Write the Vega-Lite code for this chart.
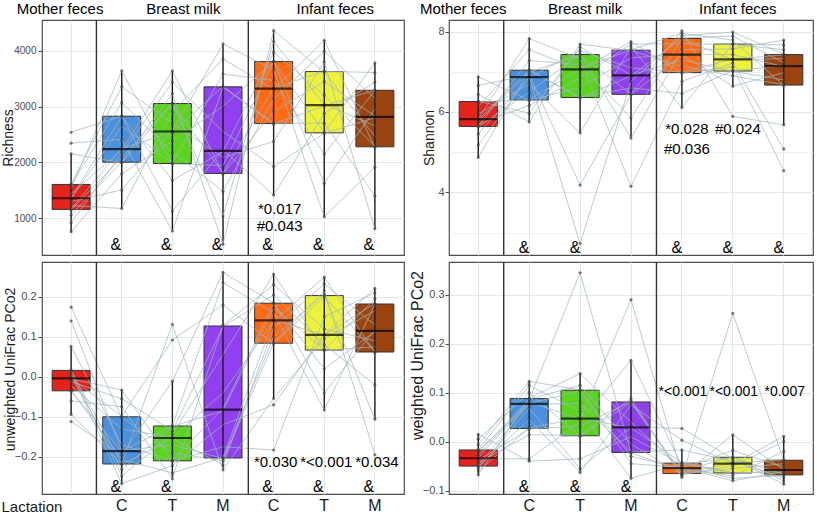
{
"$schema": "https://vega.github.io/schema/vega-lite/v6.json",
"padding": {"left": 0, "top": 0, "right": 2, "bottom": 0},
"background": "white",
"config": {
  "font": "Liberation Sans",
  "view": {"stroke": "#4d4d4d", "strokeWidth": 1.2},
  "axis": {"gridColor": "#e2e8ea", "labelColor": "#4d4d4d", "tickColor": "#4d4d4d", "titleFontWeight": "normal", "titleColor": "#1a1a1a", "domain": false}
},
"datasets": {
  "box": [
    {"p":"R","g":"MF","lo":762,"q1":1161,"med":1360,"q3":1607,"hi":2155},
    {"p":"R","g":"BC","lo":1178,"q1":2005,"med":2238,"q3":2827,"hi":3637},
    {"p":"R","g":"BT","lo":774,"q1":1982,"med":2554,"q3":3054,"hi":3637},
    {"p":"R","g":"BM","lo":536,"q1":1804,"med":2209,"q3":3352,"hi":4120},
    {"p":"R","g":"IC","lo":1416,"q1":2696,"med":3321,"q3":3804,"hi":4357},
    {"p":"R","g":"IT","lo":1030,"q1":2530,"med":3024,"q3":3625,"hi":4184},
    {"p":"R","g":"IM","lo":816,"q1":2280,"med":2815,"q3":3291,"hi":3780},
    {"p":"S","g":"MF","lo":4.87,"q1":5.64,"med":5.82,"q3":6.26,"hi":6.875},
    {"p":"S","g":"BC","lo":5.75,"q1":6.30,"med":6.87,"q3":7.04,"hi":7.83},
    {"p":"S","g":"BT","lo":5.48,"q1":6.36,"med":7.06,"q3":7.43,"hi":7.69},
    {"p":"S","g":"BM","lo":5.35,"q1":6.44,"med":6.91,"q3":7.54,"hi":7.75},
    {"p":"S","g":"IC","lo":6.11,"q1":6.98,"med":7.43,"q3":7.83,"hi":8.02},
    {"p":"S","g":"IT","lo":6.64,"q1":7.02,"med":7.31,"q3":7.69,"hi":7.99},
    {"p":"S","g":"IM","lo":5.68,"q1":6.67,"med":7.14,"q3":7.43,"hi":7.79},
    {"p":"U","g":"MF","lo":-0.094,"q1":-0.035,"med":-0.004,"q3":0.016,"hi":0.076},
    {"p":"U","g":"BC","lo":-0.267,"q1":-0.218,"med":-0.186,"q3":-0.100,"hi":-0.033},
    {"p":"U","g":"BT","lo":-0.255,"q1":-0.210,"med":-0.153,"q3":-0.123,"hi":-0.011},
    {"p":"U","g":"BM","lo":-0.233,"q1":-0.203,"med":-0.082,"q3":0.127,"hi":0.261},
    {"p":"U","g":"IC","lo":-0.054,"q1":0.084,"med":0.141,"q3":0.184,"hi":0.257},
    {"p":"U","g":"IT","lo":-0.083,"q1":0.067,"med":0.105,"q3":0.203,"hi":0.249},
    {"p":"U","g":"IM","lo":-0.106,"q1":0.062,"med":0.115,"q3":0.182,"hi":0.221},
    {"p":"W","g":"MF","lo":-0.068,"q1":-0.050,"med":-0.034,"q3":-0.017,"hi":0.015},
    {"p":"W","g":"BC","lo":-0.040,"q1":0.027,"med":0.077,"q3":0.088,"hi":0.123},
    {"p":"W","g":"BT","lo":-0.063,"q1":0.012,"med":0.047,"q3":0.105,"hi":0.139},
    {"p":"W","g":"BM","lo":-0.075,"q1":-0.022,"med":0.029,"q3":0.081,"hi":0.166},
    {"p":"W","g":"IC","lo":-0.073,"q1":-0.065,"med":-0.054,"q3":-0.044,"hi":-0.017},
    {"p":"W","g":"IT","lo":-0.080,"q1":-0.064,"med":-0.045,"q3":-0.032,"hi":0.014},
    {"p":"W","g":"IM","lo":-0.087,"q1":-0.068,"med":-0.058,"q3":-0.038,"hi":0.011}
  ],
  "subj": [
    {"p":"R","s":0,"MF":1350,"BC":2650,"BT":1990,"BM":3582,"IC":3466,"IT":2155,"IM":3285},
    {"p":"R","s":1,"MF":1150,"BC":2087,"BT":3060,"BM":1043,"IC":4163,"IT":3038,"IM":2655},
    {"p":"R","s":2,"MF":1620,"BC":3354,"BT":2704,"BM":2088,"IC":2376,"IT":3793,"IM":816},
    {"p":"R","s":3,"MF":762,"BC":1798,"BT":2382,"BM":3009,"IC":3800,"IT":2540,"IM":3780},
    {"p":"R","s":4,"MF":1440,"BC":2225,"BT":3637,"BM":1795,"IC":2915,"IT":3445,"IM":2830},
    {"p":"R","s":5,"MF":2541,"BC":2830,"BT":1130,"BM":2223,"IC":1416,"IT":2876,"IM":3438},
    {"p":"R","s":6,"MF":1230,"BC":1178,"BT":2904,"BM":3851,"IC":3310,"IT":4184,"IM":2270},
    {"p":"R","s":7,"MF":1530,"BC":3637,"BT":1975,"BM":1946,"IC":3810,"IT":1630,"IM":2958},
    {"p":"R","s":8,"MF":1060,"BC":2010,"BT":3229,"BM":536,"IC":4357,"IT":3620,"IM":2467},
    {"p":"R","s":9,"MF":2345,"BC":2415,"BT":774,"BM":3345,"IC":2690,"IT":3010,"IM":3295},
    {"p":"R","s":10,"MF":1300,"BC":1509,"BT":2568,"BM":4120,"IC":3659,"IT":1030,"IM":1914},
    {"p":"R","s":11,"MF":1595,"BC":3070,"BT":2182,"BM":1487,"IC":3134,"IT":3988,"IM":3148},
    {"p":"R","s":12,"MF":921,"BC":2168,"BT":3433,"BM":2552,"IC":1928,"IT":2520,"IM":2800},
    {"p":"R","s":13,"MF":1370,"BC":2820,"BT":1680,"BM":2195,"IC":3970,"IT":3204,"IM":2290},
    {"p":"R","s":14,"MF":2155,"BC":1995,"BT":3050,"BM":1815,"IC":3332,"IT":3630,"IM":3609},
    {"p":"R","s":15,"MF":1170,"BC":2251,"BT":2540,"BM":3360,"IC":2700,"IT":2703,"IM":1402},
    {"p":"S","s":0,"MF":5.65,"BC":7.28,"BT":7.18,"BM":5.85,"IC":7.82,"IT":7.30,"IM":7.33},
    {"p":"S","s":1,"MF":6.27,"BC":5.97,"BT":7.61,"BM":6.92,"IC":7.30,"IT":7.01,"IM":6.80},
    {"p":"S","s":2,"MF":5.95,"BC":6.70,"BT":5.48,"BM":7.62,"IC":6.11,"IT":7.70,"IM":7.67},
    {"p":"S","s":3,"MF":5.77,"BC":6.99,"BT":7.42,"BM":6.45,"IC":8.02,"IT":5.89,"IM":5.68},
    {"p":"S","s":4,"MF":6.875,"BC":6.29,"BT":6.61,"BM":7.35,"IC":7.44,"IT":7.43,"IM":7.13},
    {"p":"S","s":5,"MF":5.18,"BC":6.88,"BT":2.725,"BM":6.76,"IC":7.90,"IT":7.99,"IM":7.44},
    {"p":"S","s":6,"MF":6.13,"BC":7.55,"BT":7.05,"BM":7.75,"IC":6.97,"IT":7.12,"IM":4.54},
    {"p":"S","s":7,"MF":5.63,"BC":6.50,"BT":7.44,"BM":5.35,"IC":7.55,"IT":7.57,"IM":7.79},
    {"p":"S","s":8,"MF":6.44,"BC":5.75,"BT":7.69,"BM":7.53,"IC":7.14,"IT":6.90,"IM":6.68},
    {"p":"S","s":9,"MF":4.87,"BC":7.035,"BT":6.35,"BM":6.90,"IC":7.84,"IT":7.89,"IM":7.23},
    {"p":"S","s":10,"MF":5.83,"BC":7.83,"BT":7.32,"BM":4.15,"IC":6.76,"IT":7.22,"IM":5.08},
    {"p":"S","s":11,"MF":5.70,"BC":6.16,"BT":6.85,"BM":7.69,"IC":7.70,"IT":7.68,"IM":7.55},
    {"p":"S","s":12,"MF":6.66,"BC":6.92,"BT":4.18,"BM":6.43,"IC":7.42,"IT":6.64,"IM":6.98},
    {"p":"S","s":13,"MF":5.45,"BC":6.86,"BT":7.52,"BM":7.10,"IC":6.99,"IT":7.32,"IM":7.42},
    {"p":"S","s":14,"MF":6.25,"BC":6.31,"BT":7.07,"BM":7.55,"IC":7.96,"IT":7.79,"IM":6.66},
    {"p":"S","s":15,"MF":5.81,"BC":7.045,"BT":6.37,"BM":6.60,"IC":6.46,"IT":7.03,"IM":7.15},
    {"p":"U","s":0,"MF":0.004,"BC":-0.232,"BT":-0.124,"BM":-0.085,"IC":0.172,"IT":0.068,"IM":0.195},
    {"p":"U","s":1,"MF":0.140,"BC":-0.185,"BT":-0.170,"BM":-0.204,"IC":0.100,"IT":0.206,"IM":-0.106},
    {"p":"U","s":2,"MF":-0.060,"BC":-0.075,"BT":-0.255,"BM":0.129,"IC":0.230,"IT":0.120,"IM":0.090},
    {"p":"U","s":3,"MF":0.015,"BC":-0.217,"BT":0.131,"BM":-0.233,"IC":-0.054,"IT":0.095,"IM":0.165},
    {"p":"U","s":4,"MF":-0.022,"BC":-0.130,"BT":-0.152,"BM":-0.040,"IC":0.139,"IT":0.249,"IM":0.061},
    {"p":"U","s":5,"MF":-0.112,"BC":-0.196,"BT":-0.011,"BM":0.261,"IC":0.185,"IT":-0.040,"IM":0.117},
    {"p":"U","s":6,"MF":-0.005,"BC":-0.033,"BT":-0.211,"BM":-0.175,"IC":-0.183,"IT":0.150,"IM":0.210},
    {"p":"U","s":7,"MF":0.017,"BC":-0.248,"BT":-0.143,"BM":0.055,"IC":0.257,"IT":0.066,"IM":0.075},
    {"p":"U","s":8,"MF":0.174,"BC":-0.101,"BT":-0.190,"BM":-0.210,"IC":0.085,"IT":0.215,"IM":-0.195},
    {"p":"U","s":9,"MF":-0.036,"BC":-0.187,"BT":-0.122,"BM":0.235,"IC":0.160,"IT":-0.083,"IM":0.181},
    {"p":"U","s":10,"MF":0.010,"BC":-0.267,"BT":-0.222,"BM":-0.120,"IC":-0.070,"IT":0.106,"IM":0.221},
    {"p":"U","s":11,"MF":-0.012,"BC":-0.055,"BT":-0.135,"BM":0.125,"IC":0.205,"IT":0.080,"IM":-0.020},
    {"p":"U","s":12,"MF":-0.094,"BC":-0.219,"BT":-0.154,"BM":-0.220,"IC":0.122,"IT":0.232,"IM":0.130},
    {"p":"U","s":13,"MF":0.076,"BC":-0.170,"BT":-0.209,"BM":-0.079,"IC":0.183,"IT":0.020,"IM":0.113},
    {"p":"U","s":14,"MF":-0.003,"BC":-0.099,"BT":0.092,"BM":0.180,"IC":0.083,"IT":0.200,"IM":0.063},
    {"p":"U","s":15,"MF":-0.034,"BC":-0.207,"BT":-0.240,"BM":-0.202,"IC":0.143,"IT":0.104,"IM":0.183},
    {"p":"W","s":0,"MF":-0.018,"BC":0.076,"BT":0.078,"BM":-0.021,"IC":-0.017,"IT":-0.040,"IM":-0.074},
    {"p":"W","s":1,"MF":-0.038,"BC":0.026,"BT":0.032,"BM":0.082,"IC":-0.070,"IT":0.014,"IM":-0.057},
    {"p":"W","s":2,"MF":-0.068,"BC":0.089,"BT":0.139,"BM":0.040,"IC":-0.057,"IT":-0.070,"IM":-0.020},
    {"p":"W","s":3,"MF":0.015,"BC":-0.040,"BT":-0.035,"BM":0.010,"IC":-0.047,"IT":-0.033,"IM":-0.067},
    {"p":"W","s":4,"MF":-0.033,"BC":0.081,"BT":0.046,"BM":0.290,"IC":-0.066,"IT":-0.055,"IM":-0.045},
    {"p":"W","s":5,"MF":-0.006,"BC":0.123,"BT":0.106,"BM":-0.045,"IC":-0.053,"IT":-0.080,"IM":-0.061},
    {"p":"W","s":6,"MF":-0.051,"BC":0.045,"BT":-0.063,"BM":0.075,"IC":0.003,"IT":-0.046,"IM":0.011},
    {"p":"W","s":7,"MF":-0.028,"BC":0.085,"BT":0.345,"BM":-0.023,"IC":-0.060,"IT":-0.031,"IM":-0.080},
    {"p":"W","s":8,"MF":-0.043,"BC":0.014,"BT":0.013,"BM":0.088,"IC":-0.073,"IT":0.262,"IM":-0.039},
    {"p":"W","s":9,"MF":-0.016,"BC":0.115,"BT":0.062,"BM":-0.075,"IC":-0.045,"IT":-0.065,"IM":-0.059},
    {"p":"W","s":10,"MF":-0.055,"BC":0.068,"BT":-0.055,"BM":0.030,"IC":0.027,"IT":-0.035,"IM":-0.087},
    {"p":"W","s":11,"MF":-0.022,"BC":0.087,"BT":0.115,"BM":-0.005,"IC":-0.067,"IT":-0.050,"IM":0.000},
    {"p":"W","s":12,"MF":-0.035,"BC":-0.035,"BT":0.040,"BM":0.166,"IC":-0.050,"IT":-0.075,"IM":-0.069},
    {"p":"W","s":13,"MF":-0.049,"BC":0.078,"BT":0.104,"BM":-0.030,"IC":-0.055,"IT":-0.018,"IM":-0.052},
    {"p":"W","s":14,"MF":0.005,"BC":0.100,"BT":0.011,"BM":0.080,"IC":-0.064,"IT":-0.044,"IM":-0.037},
    {"p":"W","s":15,"MF":-0.060,"BC":0.028,"BT":0.048,"BM":0.028,"IC":-0.043,"IT":-0.063,"IM":-0.064}
  ],
  "ann": [
    {"p":"R","g":"BC","v":520,"t":"&"},{"p":"R","g":"BT","v":520,"t":"&"},{"p":"R","g":"BM","v":520,"t":"&"},
    {"p":"R","g":"IC","v":520,"t":"&"},{"p":"R","g":"IT","v":520,"t":"&"},{"p":"R","g":"IM","v":520,"t":"&"},
    {"p":"R","g":"IC","v":1161,"t":"*0.017"},{"p":"R","g":"IC","v":857,"t":"#0.043"},
    {"p":"S","g":"BC","v":2.61,"t":"&"},{"p":"S","g":"BT","v":2.61,"t":"&"},
    {"p":"S","g":"IC","v":2.61,"t":"&"},{"p":"S","g":"IT","v":2.61,"t":"&"},{"p":"S","g":"IM","v":2.61,"t":"&"},
    {"p":"S","g":"IC","v":5.585,"t":"*0.028"},{"p":"S","g":"IT","v":5.585,"t":"#0.024"},{"p":"S","g":"IC","v":5.07,"t":"#0.036"},
    {"p":"U","g":"BC","v":-0.276,"t":"&"},{"p":"U","g":"BT","v":-0.276,"t":"&"},
    {"p":"U","g":"IC","v":-0.276,"t":"&"},{"p":"U","g":"IT","v":-0.276,"t":"&"},{"p":"U","g":"IM","v":-0.276,"t":"&"},
    {"p":"U","g":"IC","v":-0.214,"t":"*0.030"},{"p":"U","g":"IT","v":-0.214,"t":"*<0.001"},{"p":"U","g":"IM","v":-0.214,"t":"*0.034"},
    {"p":"W","g":"BC","v":-0.0926,"t":"&"},{"p":"W","g":"BT","v":-0.0926,"t":"&"},{"p":"W","g":"BM","v":-0.0926,"t":"&"},
    {"p":"W","g":"IC","v":0.102,"t":"*<0.001"},{"p":"W","g":"IT","v":0.102,"t":"*<0.001"},{"p":"W","g":"IM","v":0.102,"t":"*0.007"}
  ]
},
"columns": 2,
"spacing": {"row": 3, "column": 3},
"concat": [
  {
    "width": 362, "height": 235,
    "resolve": {"axis": {"x": "independent"}},
    "layer": [
      {"data": {"name": "box"}, "transform": [{"filter": "datum.p === 'R'"}],
       "mark": {"type": "bar", "width": {"band": 0.75}, "stroke": "#333333", "strokeWidth": 1},
       "encoding": {
         "x": {"field": "g", "type": "nominal", "scale": {"type": "band", "domain": ["MF","BC","BT","BM","IC","IT","IM"], "paddingInner": 0, "paddingOuter": 0.075}, "axis": {"grid": true, "labels": false, "ticks": false, "domain": false, "title": null}},
         "y": {"field": "q1", "type": "quantitative", "title": "Richness", "scale": {"domain": [345, 4548], "nice": false, "zero": false},
               "axis": {"values": [1000,2000,3000,4000], "format": "d", "grid": true, "tickSize": 4, "labelPadding": 2, "labelFontSize": 10, "titleFontSize": 14, "titlePadding": -2}},
         "y2": {"field": "q3"},
         "color": {"field": "g", "type": "nominal", "scale": {"domain": ["MF","BC","BT","BM","IC","IT","IM"], "range": ["#e3231c","#4a90dc","#5bd41c","#9140f0","#ff6a14","#edf23c","#9c4410"]}, "legend": null}
       }},
      {"data": {"name": "box"}, "transform": [{"filter": "datum.p === 'R'"}],
       "mark": {"type": "rule", "color": "#1a1a1a", "strokeWidth": 1.4},
       "encoding": {
         "x": {"field": "g", "type": "nominal", "scale": {"type": "band", "domain": ["MF","BC","BT","BM","IC","IT","IM"], "paddingInner": 0, "paddingOuter": 0.075}, "axis": null},
         "y": {"field": "lo", "type": "quantitative", "title": "Richness", "scale": {"domain": [345, 4548], "nice": false, "zero": false}},
         "y2": {"field": "hi"}
       }},
      {"data": {"name": "subj"}, "transform": [{"filter": "datum.p === 'R'"}, {"fold": ["MF","BC","BT","BM","IC","IT","IM"], "as": ["g","v"]}],
       "mark": {"type": "line", "color": "#a2b7bd", "strokeWidth": 0.9, "opacity": 0.8},
       "encoding": {
         "x": {"field": "g", "type": "nominal", "scale": {"type": "band", "domain": ["MF","BC","BT","BM","IC","IT","IM"], "paddingInner": 0, "paddingOuter": 0.075}, "axis": null},
         "y": {"field": "v", "type": "quantitative", "title": "Richness", "scale": {"domain": [345, 4548], "nice": false, "zero": false}},
         "detail": {"field": "s", "type": "nominal"},
         "order": {"value": null}
       }},
      {"data": {"name": "subj"}, "transform": [{"filter": "datum.p === 'R'"}, {"fold": ["MF","BC","BT","BM","IC","IT","IM"], "as": ["g","v"]}],
       "mark": {"type": "circle", "color": "#3a3a3a", "size": 10, "opacity": 0.65},
       "encoding": {
         "x": {"field": "g", "type": "nominal", "scale": {"type": "band", "domain": ["MF","BC","BT","BM","IC","IT","IM"], "paddingInner": 0, "paddingOuter": 0.075}, "axis": null},
         "y": {"field": "v", "type": "quantitative", "title": "Richness", "scale": {"domain": [345, 4548], "nice": false, "zero": false}}
       }},
      {"data": {"name": "box"}, "transform": [{"filter": "datum.p === 'R'"}],
       "mark": {"type": "tick", "color": "#000000", "size": 38, "thickness": 2.2},
       "encoding": {
         "x": {"field": "g", "type": "nominal", "scale": {"type": "band", "domain": ["MF","BC","BT","BM","IC","IT","IM"], "paddingInner": 0, "paddingOuter": 0.075}, "axis": null},
         "y": {"field": "med", "type": "quantitative", "title": "Richness", "scale": {"domain": [345, 4548], "nice": false, "zero": false}}
       }},
      {"data": {"name": "box"}, "transform": [{"filter": "datum.p === 'R' && (datum.g === 'BC' || datum.g === 'IC')"}],
       "mark": {"type": "rule", "color": "#333333", "strokeWidth": 1.4},
       "encoding": {
         "x": {"field": "g", "type": "nominal", "bandPosition": 0, "scale": {"type": "band", "domain": ["MF","BC","BT","BM","IC","IT","IM"], "paddingInner": 0, "paddingOuter": 0.075},
               "axis": {"orient": "top", "values": ["MF","BT","IT"], "labelExpr": "datum.value === 'MF' ? 'Mother feces' : datum.value === 'BT' ? 'Breast milk' : 'Infant feces'", "ticks": false, "tickSize": 0, "domain": false, "grid": false, "labelAngle": 0, "labelFontSize": 15, "labelColor": "#000000", "labelPadding": 7, "labelBaseline": "alphabetic", "labelOffset": {"condition": {"test": "datum.value === 'MF'", "value": -11}, "value": 11}, "title": null}}
       }},
      {"data": {"name": "ann"}, "transform": [{"filter": "datum.p === 'R' && datum.t === '&'"}],
       "mark": {"type": "text", "fontSize": 16, "color": "#000000", "baseline": "middle", "dx": -6},
       "encoding": {
         "x": {"field": "g", "type": "nominal", "scale": {"type": "band", "domain": ["MF","BC","BT","BM","IC","IT","IM"], "paddingInner": 0, "paddingOuter": 0.075}, "axis": null},
         "y": {"field": "v", "type": "quantitative", "title": "Richness", "scale": {"domain": [345, 4548], "nice": false, "zero": false}},
         "text": {"field": "t"}
       }},
      {"data": {"name": "ann"}, "transform": [{"filter": "datum.p === 'R' && datum.t !== '&'"}],
       "mark": {"type": "text", "fontSize": 15, "color": "#000000", "baseline": "middle", "dx": 6},
       "encoding": {
         "x": {"field": "g", "type": "nominal", "scale": {"type": "band", "domain": ["MF","BC","BT","BM","IC","IT","IM"], "paddingInner": 0, "paddingOuter": 0.075}, "axis": null},
         "y": {"field": "v", "type": "quantitative", "title": "Richness", "scale": {"domain": [345, 4548], "nice": false, "zero": false}},
         "text": {"field": "t"}
       }}
    ]
  },
  {
    "width": 364, "height": 235,
    "resolve": {"axis": {"x": "independent"}},
    "layer": [
      {"data": {"name": "box"}, "transform": [{"filter": "datum.p === 'S'"}],
       "mark": {"type": "bar", "width": {"band": 0.75}, "stroke": "#333333", "strokeWidth": 1},
       "encoding": {
         "x": {"field": "g", "type": "nominal", "scale": {"type": "band", "domain": ["MF","BC","BT","BM","IC","IT","IM"], "paddingInner": 0, "paddingOuter": 0.075}, "axis": {"grid": true, "labels": false, "ticks": false, "domain": false, "title": null}},
         "y": {"field": "q1", "type": "quantitative", "title": "Shannon", "scale": {"domain": [2.44, 8.29], "nice": false, "zero": false},
               "axis": {"values": [3,4,5,6,7,8], "labelOverlap": false, "labelOpacity": {"condition": {"test": "datum.value % 2 !== 0", "value": 0}, "value": 1}, "tickOpacity": {"condition": {"test": "datum.value % 2 !== 0", "value": 0}, "value": 1}, "gridWidth": {"condition": {"test": "datum.value % 2 !== 0", "value": 0.6}, "value": 1}, "grid": true, "tickSize": 4, "labelPadding": 1, "labelFontSize": 11, "titleFontSize": 14, "titlePadding": 1}},
         "y2": {"field": "q3"},
         "color": {"field": "g", "type": "nominal", "scale": {"domain": ["MF","BC","BT","BM","IC","IT","IM"], "range": ["#e3231c","#4a90dc","#5bd41c","#9140f0","#ff6a14","#edf23c","#9c4410"]}, "legend": null}
       }},
      {"data": {"name": "box"}, "transform": [{"filter": "datum.p === 'S'"}],
       "mark": {"type": "rule", "color": "#1a1a1a", "strokeWidth": 1.4},
       "encoding": {
         "x": {"field": "g", "type": "nominal", "scale": {"type": "band", "domain": ["MF","BC","BT","BM","IC","IT","IM"], "paddingInner": 0, "paddingOuter": 0.075}, "axis": null},
         "y": {"field": "lo", "type": "quantitative", "title": "Shannon", "scale": {"domain": [2.44, 8.29], "nice": false, "zero": false}},
         "y2": {"field": "hi"}
       }},
      {"data": {"name": "subj"}, "transform": [{"filter": "datum.p === 'S'"}, {"fold": ["MF","BC","BT","BM","IC","IT","IM"], "as": ["g","v"]}],
       "mark": {"type": "line", "color": "#a2b7bd", "strokeWidth": 0.9, "opacity": 0.8},
       "encoding": {
         "x": {"field": "g", "type": "nominal", "scale": {"type": "band", "domain": ["MF","BC","BT","BM","IC","IT","IM"], "paddingInner": 0, "paddingOuter": 0.075}, "axis": null},
         "y": {"field": "v", "type": "quantitative", "title": "Shannon", "scale": {"domain": [2.44, 8.29], "nice": false, "zero": false}},
         "detail": {"field": "s", "type": "nominal"},
         "order": {"value": null}
       }},
      {"data": {"name": "subj"}, "transform": [{"filter": "datum.p === 'S'"}, {"fold": ["MF","BC","BT","BM","IC","IT","IM"], "as": ["g","v"]}],
       "mark": {"type": "circle", "color": "#3a3a3a", "size": 10, "opacity": 0.65},
       "encoding": {
         "x": {"field": "g", "type": "nominal", "scale": {"type": "band", "domain": ["MF","BC","BT","BM","IC","IT","IM"], "paddingInner": 0, "paddingOuter": 0.075}, "axis": null},
         "y": {"field": "v", "type": "quantitative", "title": "Shannon", "scale": {"domain": [2.44, 8.29], "nice": false, "zero": false}}
       }},
      {"data": {"name": "box"}, "transform": [{"filter": "datum.p === 'S'"}],
       "mark": {"type": "tick", "color": "#000000", "size": 38, "thickness": 2.2},
       "encoding": {
         "x": {"field": "g", "type": "nominal", "scale": {"type": "band", "domain": ["MF","BC","BT","BM","IC","IT","IM"], "paddingInner": 0, "paddingOuter": 0.075}, "axis": null},
         "y": {"field": "med", "type": "quantitative", "title": "Shannon", "scale": {"domain": [2.44, 8.29], "nice": false, "zero": false}}
       }},
      {"data": {"name": "box"}, "transform": [{"filter": "datum.p === 'S' && (datum.g === 'BC' || datum.g === 'IC')"}],
       "mark": {"type": "rule", "color": "#333333", "strokeWidth": 1.4},
       "encoding": {
         "x": {"field": "g", "type": "nominal", "bandPosition": 0, "scale": {"type": "band", "domain": ["MF","BC","BT","BM","IC","IT","IM"], "paddingInner": 0, "paddingOuter": 0.075},
               "axis": {"orient": "top", "values": ["MF","BT","IT"], "labelExpr": "datum.value === 'MF' ? 'Mother feces' : datum.value === 'BT' ? 'Breast milk' : 'Infant feces'", "ticks": false, "tickSize": 0, "domain": false, "grid": false, "labelAngle": 0, "labelFontSize": 15, "labelColor": "#000000", "labelPadding": 7, "labelBaseline": "alphabetic", "labelOffset": {"condition": {"test": "datum.value === 'MF'", "value": -15}, "value": 5}, "title": null}}
       }},
      {"data": {"name": "ann"}, "transform": [{"filter": "datum.p === 'S' && datum.t === '&'"}],
       "mark": {"type": "text", "fontSize": 16, "color": "#000000", "baseline": "middle", "dx": -5},
       "encoding": {
         "x": {"field": "g", "type": "nominal", "scale": {"type": "band", "domain": ["MF","BC","BT","BM","IC","IT","IM"], "paddingInner": 0, "paddingOuter": 0.075}, "axis": null},
         "y": {"field": "v", "type": "quantitative", "title": "Shannon", "scale": {"domain": [2.44, 8.29], "nice": false, "zero": false}},
         "text": {"field": "t"}
       }},
      {"data": {"name": "ann"}, "transform": [{"filter": "datum.p === 'S' && datum.t !== '&'"}],
       "mark": {"type": "text", "fontSize": 15, "color": "#000000", "baseline": "middle", "dx": 5},
       "encoding": {
         "x": {"field": "g", "type": "nominal", "scale": {"type": "band", "domain": ["MF","BC","BT","BM","IC","IT","IM"], "paddingInner": 0, "paddingOuter": 0.075}, "axis": null},
         "y": {"field": "v", "type": "quantitative", "title": "Shannon", "scale": {"domain": [2.44, 8.29], "nice": false, "zero": false}},
         "text": {"field": "t"}
       }}
    ]
  },
  {
    "width": 362, "height": 232,
    "layer": [
      {"data": {"name": "box"}, "transform": [{"filter": "datum.p === 'U'"}],
       "mark": {"type": "bar", "width": {"band": 0.75}, "stroke": "#333333", "strokeWidth": 1},
       "encoding": {
         "x": {"field": "g", "type": "nominal", "title": "Lactation", "scale": {"type": "band", "domain": ["MF","BC","BT","BM","IC","IT","IM"], "paddingInner": 0, "paddingOuter": 0.075},
               "axis": {"grid": true, "values": ["MF","BC","BT","BM","IC","IT","IM"], "labelExpr": "datum.value === 'MF' ? '' : substring(datum.value, 1)", "ticks": false, "domain": false, "labelFontSize": 16, "labelColor": "#1a1a1a", "labelPadding": 3, "labelAngle": 0, "titleX": -41, "titleY": 17, "titleAlign": "left", "titleAnchor": "start", "titleBaseline": "alphabetic", "titleFontSize": 15}},
         "y": {"field": "q1", "type": "quantitative", "title": "unweighted UniFrac PCo2", "scale": {"domain": [-0.293, 0.287], "nice": false, "zero": false},
               "axis": {"values": [-0.2,-0.1,0,0.1,0.2], "format": ".1f", "grid": true, "tickSize": 4, "labelPadding": 2, "labelFontSize": 11, "titleFontSize": 14, "titlePadding": -3, "titleY": 107}},
         "y2": {"field": "q3"},
         "color": {"field": "g", "type": "nominal", "scale": {"domain": ["MF","BC","BT","BM","IC","IT","IM"], "range": ["#e3231c","#4a90dc","#5bd41c","#9140f0","#ff6a14","#edf23c","#9c4410"]}, "legend": null}
       }},
      {"data": {"name": "box"}, "transform": [{"filter": "datum.p === 'U'"}],
       "mark": {"type": "rule", "color": "#1a1a1a", "strokeWidth": 1.4},
       "encoding": {
         "x": {"field": "g", "type": "nominal", "title": "Lactation", "scale": {"type": "band", "domain": ["MF","BC","BT","BM","IC","IT","IM"], "paddingInner": 0, "paddingOuter": 0.075}},
         "y": {"field": "lo", "type": "quantitative", "title": "unweighted UniFrac PCo2", "scale": {"domain": [-0.293, 0.287], "nice": false, "zero": false}},
         "y2": {"field": "hi"}
       }},
      {"data": {"name": "subj"}, "transform": [{"filter": "datum.p === 'U'"}, {"fold": ["MF","BC","BT","BM","IC","IT","IM"], "as": ["g","v"]}],
       "mark": {"type": "line", "color": "#a2b7bd", "strokeWidth": 0.9, "opacity": 0.8},
       "encoding": {
         "x": {"field": "g", "type": "nominal", "title": "Lactation", "scale": {"type": "band", "domain": ["MF","BC","BT","BM","IC","IT","IM"], "paddingInner": 0, "paddingOuter": 0.075}},
         "y": {"field": "v", "type": "quantitative", "title": "unweighted UniFrac PCo2", "scale": {"domain": [-0.293, 0.287], "nice": false, "zero": false}},
         "detail": {"field": "s", "type": "nominal"},
         "order": {"value": null}
       }},
      {"data": {"name": "subj"}, "transform": [{"filter": "datum.p === 'U'"}, {"fold": ["MF","BC","BT","BM","IC","IT","IM"], "as": ["g","v"]}],
       "mark": {"type": "circle", "color": "#3a3a3a", "size": 10, "opacity": 0.65},
       "encoding": {
         "x": {"field": "g", "type": "nominal", "title": "Lactation", "scale": {"type": "band", "domain": ["MF","BC","BT","BM","IC","IT","IM"], "paddingInner": 0, "paddingOuter": 0.075}},
         "y": {"field": "v", "type": "quantitative", "title": "unweighted UniFrac PCo2", "scale": {"domain": [-0.293, 0.287], "nice": false, "zero": false}}
       }},
      {"data": {"name": "box"}, "transform": [{"filter": "datum.p === 'U'"}],
       "mark": {"type": "tick", "color": "#000000", "size": 38, "thickness": 2.2},
       "encoding": {
         "x": {"field": "g", "type": "nominal", "title": "Lactation", "scale": {"type": "band", "domain": ["MF","BC","BT","BM","IC","IT","IM"], "paddingInner": 0, "paddingOuter": 0.075}},
         "y": {"field": "med", "type": "quantitative", "title": "unweighted UniFrac PCo2", "scale": {"domain": [-0.293, 0.287], "nice": false, "zero": false}}
       }},
      {"data": {"name": "box"}, "transform": [{"filter": "datum.p === 'U' && (datum.g === 'BC' || datum.g === 'IC')"}],
       "mark": {"type": "rule", "color": "#333333", "strokeWidth": 1.4},
       "encoding": {
         "x": {"field": "g", "type": "nominal", "title": "Lactation", "bandPosition": 0, "scale": {"type": "band", "domain": ["MF","BC","BT","BM","IC","IT","IM"], "paddingInner": 0, "paddingOuter": 0.075}}
       }},
      {"data": {"name": "ann"}, "transform": [{"filter": "datum.p === 'U' && datum.t === '&'"}],
       "mark": {"type": "text", "fontSize": 16, "color": "#000000", "baseline": "middle", "dx": -6},
       "encoding": {
         "x": {"field": "g", "type": "nominal", "title": "Lactation", "scale": {"type": "band", "domain": ["MF","BC","BT","BM","IC","IT","IM"], "paddingInner": 0, "paddingOuter": 0.075}},
         "y": {"field": "v", "type": "quantitative", "title": "unweighted UniFrac PCo2", "scale": {"domain": [-0.293, 0.287], "nice": false, "zero": false}},
         "text": {"field": "t"}
       }},
      {"data": {"name": "ann"}, "transform": [{"filter": "datum.p === 'U' && datum.t !== '&'"}],
       "mark": {"type": "text", "fontSize": 15, "color": "#000000", "baseline": "middle", "dx": 2},
       "encoding": {
         "x": {"field": "g", "type": "nominal", "title": "Lactation", "scale": {"type": "band", "domain": ["MF","BC","BT","BM","IC","IT","IM"], "paddingInner": 0, "paddingOuter": 0.075}},
         "y": {"field": "v", "type": "quantitative", "title": "unweighted UniFrac PCo2", "scale": {"domain": [-0.293, 0.287], "nice": false, "zero": false}},
         "text": {"field": "t"}
       }}
    ]
  },
  {
    "width": 364, "height": 232,
    "layer": [
      {"data": {"name": "box"}, "transform": [{"filter": "datum.p === 'W'"}],
       "mark": {"type": "bar", "width": {"band": 0.75}, "stroke": "#333333", "strokeWidth": 1},
       "encoding": {
         "x": {"field": "g", "type": "nominal", "title": null, "scale": {"type": "band", "domain": ["MF","BC","BT","BM","IC","IT","IM"], "paddingInner": 0, "paddingOuter": 0.075},
               "axis": {"grid": true, "values": ["MF","BC","BT","BM","IC","IT","IM"], "labelExpr": "datum.value === 'MF' ? '' : substring(datum.value, 1)", "ticks": false, "domain": false, "labelFontSize": 16, "labelColor": "#1a1a1a", "labelPadding": 3, "labelAngle": 0}},
         "y": {"field": "q1", "type": "quantitative", "title": "weighted UniFrac PCo2", "scale": {"domain": [-0.107, 0.367], "nice": false, "zero": false},
               "axis": {"values": [-0.1,-0.05,0,0.05,0.1,0.15,0.2,0.25,0.3,0.35], "format": ".1f", "labelOverlap": false, "labelOpacity": {"condition": {"test": "abs(round(datum.value*20)) % 2 === 1", "value": 0}, "value": 1}, "tickOpacity": {"condition": {"test": "abs(round(datum.value*20)) % 2 === 1", "value": 0}, "value": 1}, "gridWidth": {"condition": {"test": "abs(round(datum.value*20)) % 2 === 1", "value": 0.6}, "value": 1}, "grid": true, "tickSize": 4, "labelPadding": 1, "labelFontSize": 11, "titleFontSize": 16, "titlePadding": -3, "titleY": 93}},
         "y2": {"field": "q3"},
         "color": {"field": "g", "type": "nominal", "scale": {"domain": ["MF","BC","BT","BM","IC","IT","IM"], "range": ["#e3231c","#4a90dc","#5bd41c","#9140f0","#ff6a14","#edf23c","#9c4410"]}, "legend": null}
       }},
      {"data": {"name": "box"}, "transform": [{"filter": "datum.p === 'W'"}],
       "mark": {"type": "rule", "color": "#1a1a1a", "strokeWidth": 1.4},
       "encoding": {
         "x": {"field": "g", "type": "nominal", "title": null, "scale": {"type": "band", "domain": ["MF","BC","BT","BM","IC","IT","IM"], "paddingInner": 0, "paddingOuter": 0.075}},
         "y": {"field": "lo", "type": "quantitative", "title": "weighted UniFrac PCo2", "scale": {"domain": [-0.107, 0.367], "nice": false, "zero": false}},
         "y2": {"field": "hi"}
       }},
      {"data": {"name": "subj"}, "transform": [{"filter": "datum.p === 'W'"}, {"fold": ["MF","BC","BT","BM","IC","IT","IM"], "as": ["g","v"]}],
       "mark": {"type": "line", "color": "#a2b7bd", "strokeWidth": 0.9, "opacity": 0.8},
       "encoding": {
         "x": {"field": "g", "type": "nominal", "title": null, "scale": {"type": "band", "domain": ["MF","BC","BT","BM","IC","IT","IM"], "paddingInner": 0, "paddingOuter": 0.075}},
         "y": {"field": "v", "type": "quantitative", "title": "weighted UniFrac PCo2", "scale": {"domain": [-0.107, 0.367], "nice": false, "zero": false}},
         "detail": {"field": "s", "type": "nominal"},
         "order": {"value": null}
       }},
      {"data": {"name": "subj"}, "transform": [{"filter": "datum.p === 'W'"}, {"fold": ["MF","BC","BT","BM","IC","IT","IM"], "as": ["g","v"]}],
       "mark": {"type": "circle", "color": "#3a3a3a", "size": 10, "opacity": 0.65},
       "encoding": {
         "x": {"field": "g", "type": "nominal", "title": null, "scale": {"type": "band", "domain": ["MF","BC","BT","BM","IC","IT","IM"], "paddingInner": 0, "paddingOuter": 0.075}},
         "y": {"field": "v", "type": "quantitative", "title": "weighted UniFrac PCo2", "scale": {"domain": [-0.107, 0.367], "nice": false, "zero": false}}
       }},
      {"data": {"name": "box"}, "transform": [{"filter": "datum.p === 'W'"}],
       "mark": {"type": "tick", "color": "#000000", "size": 38, "thickness": 2.2},
       "encoding": {
         "x": {"field": "g", "type": "nominal", "title": null, "scale": {"type": "band", "domain": ["MF","BC","BT","BM","IC","IT","IM"], "paddingInner": 0, "paddingOuter": 0.075}},
         "y": {"field": "med", "type": "quantitative", "title": "weighted UniFrac PCo2", "scale": {"domain": [-0.107, 0.367], "nice": false, "zero": false}}
       }},
      {"data": {"name": "box"}, "transform": [{"filter": "datum.p === 'W' && (datum.g === 'BC' || datum.g === 'IC')"}],
       "mark": {"type": "rule", "color": "#333333", "strokeWidth": 1.4},
       "encoding": {
         "x": {"field": "g", "type": "nominal", "title": null, "bandPosition": 0, "scale": {"type": "band", "domain": ["MF","BC","BT","BM","IC","IT","IM"], "paddingInner": 0, "paddingOuter": 0.075}}
       }},
      {"data": {"name": "ann"}, "transform": [{"filter": "datum.p === 'W' && datum.t === '&'"}],
       "mark": {"type": "text", "fontSize": 16, "color": "#000000", "baseline": "middle", "dx": -5},
       "encoding": {
         "x": {"field": "g", "type": "nominal", "title": null, "scale": {"type": "band", "domain": ["MF","BC","BT","BM","IC","IT","IM"], "paddingInner": 0, "paddingOuter": 0.075}},
         "y": {"field": "v", "type": "quantitative", "title": "weighted UniFrac PCo2", "scale": {"domain": [-0.107, 0.367], "nice": false, "zero": false}},
         "text": {"field": "t"}
       }},
      {"data": {"name": "ann"}, "transform": [{"filter": "datum.p === 'W' && datum.t !== '&'"}],
       "mark": {"type": "text", "fontSize": 14, "color": "#000000", "baseline": "middle", "dx": 1},
       "encoding": {
         "x": {"field": "g", "type": "nominal", "title": null, "scale": {"type": "band", "domain": ["MF","BC","BT","BM","IC","IT","IM"], "paddingInner": 0, "paddingOuter": 0.075}},
         "y": {"field": "v", "type": "quantitative", "title": "weighted UniFrac PCo2", "scale": {"domain": [-0.107, 0.367], "nice": false, "zero": false}},
         "text": {"field": "t"}
       }}
    ]
  }
]
}
